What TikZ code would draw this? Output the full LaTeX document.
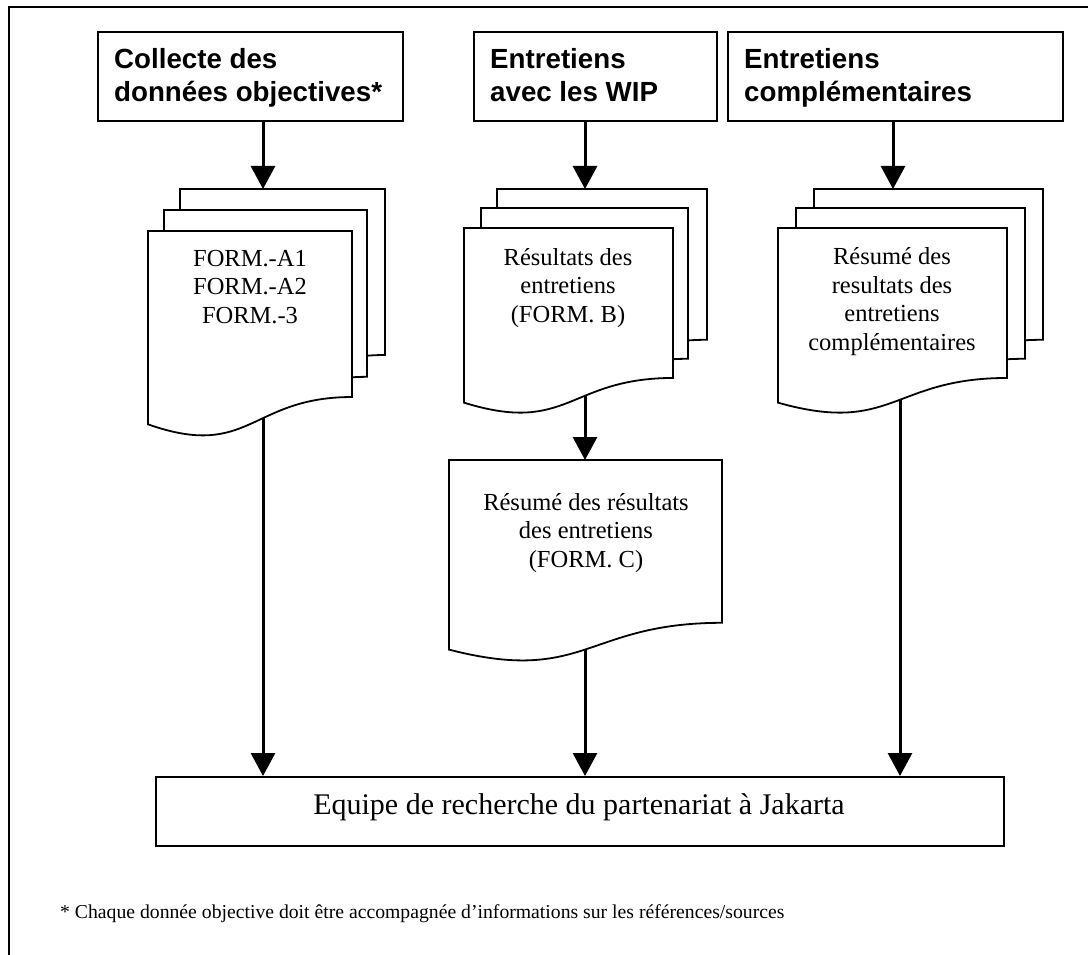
\documentclass[tikz,border=0pt]{standalone}
\usepackage{fontspec}
\setmainfont{Liberation Serif}
\newfontfamily\arialfont{Liberation Sans}
\usetikzlibrary{arrows.meta}
\newcommand\docpage[4]{%
  \filldraw[page] (#1,#3) -- (#2,#3) -- (#2,{#3+0.802*#4})
    .. controls ({(#1+#2)/2},{#3+0.802*#4}) and ({(#1+#2)/2},{#3+1.1075*#4}) ..
    (#1,{#3+0.934*#4}) -- cycle;}
\begin{document}
\begin{tikzpicture}[x=1pt,y=-1pt,
  page/.style={draw=black, fill=white, line width=1.8pt, line join=miter},
  headbox/.style={draw, line width=2pt, inner sep=0pt, anchor=north west},
  headtext/.style={font=\arialfont\bfseries\fontsize{27.7}{33}\selectfont, align=left, inner sep=0pt, anchor=base west},
  doctext/.style={font=\fontsize{24.5}{28.5}\selectfont, align=center, inner sep=0pt, anchor=base},
  arr/.style={line width=3pt, -{Triangle[width=24pt,length=23pt]}}]
\useasboundingbox (0,0) rectangle (1088,955);
% outer frame
\draw[line width=1.5pt] (9,955) -- (9,7) -- (1088,7);

% header boxes (text anchored at the baseline of its last line)
\node[headbox, minimum width=305pt, minimum height=89pt] (h1) at (97,31) {};
\node[headtext] (h1t) at (114,102) {Collecte des\\données objectives*};
\node[headbox, minimum width=243pt, minimum height=89pt] (h2) at (473,31) {};
\node[headtext] (h2t) at (490,102) {Entretiens\\avec les WIP};
\node[headbox, minimum width=335pt, minimum height=89pt] (h3) at (727,31) {};
\node[headtext] (h3t) at (744,102) {Entretiens\\complémentaires};

% document stacks
\docpage{180}{385}{189}{207}
\docpage{164}{367}{210}{208}
\docpage{148}{352}{231}{207}
\node[doctext] (d1) at (250,323) {FORM.-A1\\FORM.-A2\\FORM.-3};

\docpage{497}{707}{189}{188}
\docpage{481}{688}{208}{188}
\docpage{464}{673}{228}{187}
\node[doctext] (d2) at (568,322) {Résultats des\\entretiens\\(FORM. B)};

\docpage{814}{1043}{189}{188}
\docpage{796}{1025}{208}{188}
\docpage{778}{1007}{228}{187}
\node[doctext] (d3) at (892,350) {Résumé des\\resultats des\\entretiens\\complémentaires};

\docpage{449}{722}{460}{203}
\node[doctext] (dc) at (586,567) {Résumé des résultats\\des entretiens\\(FORM. C)};

% bottom box
\node[headbox, minimum width=848pt, minimum height=69pt] (team) at (155,776) {};
\node[font=\fontsize{30}{36}\selectfont, inner sep=0pt, anchor=base] (teamt) at (579,814) {Equipe de recherche du partenariat à Jakarta};

% footnote
\node[font=\fontsize{19.7}{24}\selectfont, inner sep=0pt, anchor=base west] (note) at (60,918) {* Chaque donnée objective doit être accompagnée d’informations sur les références/sources};

% connector end points
\coordinate (a1s) at (263,120); \coordinate (a1e) at (263,189);
\coordinate (a2s) at (585,120); \coordinate (a2e) at (585,189);
\coordinate (a3s) at (893,120); \coordinate (a3e) at (893,189);
\coordinate (b1s) at (263,418); \coordinate (b1e) at (263,776);
\coordinate (b2s) at (585,396); \coordinate (b2e) at (585,460);
\coordinate (c2s) at (585,649); \coordinate (c2e) at (585,776);
\coordinate (b3s) at (900,400); \coordinate (b3e) at (900,776);

\draw[arr] (a1s) -- (a1e);
\draw[arr] (a2s) -- (a2e);
\draw[arr] (a3s) -- (a3e);
\draw[arr] (b1s) -- (b1e);
\draw[arr] (b2s) -- (b2e);
\draw[arr] (c2s) -- (c2e);
\draw[arr] (b3s) -- (b3e);
\end{tikzpicture}
\end{document}
